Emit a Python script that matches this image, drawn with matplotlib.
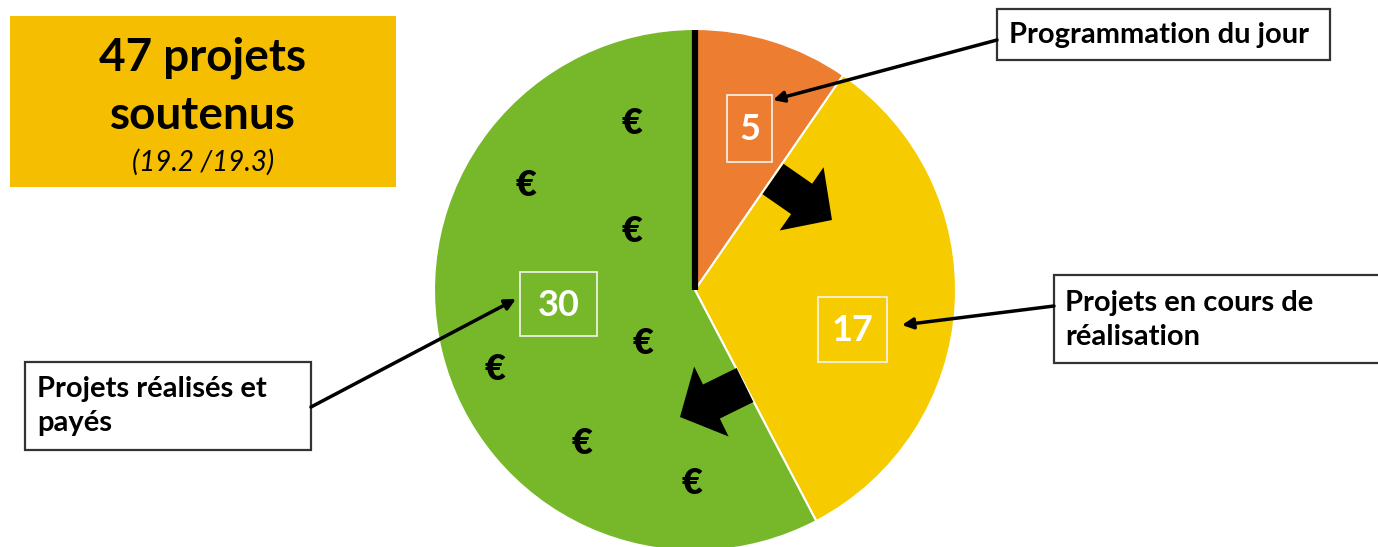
import matplotlib
matplotlib.use("Agg")
import matplotlib.pyplot as plt
from matplotlib.patches import Rectangle, FancyArrow

W, H = 1378, 547

# ---- data ----
categories = ["Programmation du jour", "Projets en cours de\nréalisation", "Projets réalisés et\npayés"]
values = [5, 17, 30]
colors = ["#ED7D31", "#F6CB00", "#77B82A"]
title_lines = ["47 projets", "soutenus"]
title_sub = "(19.2 /19.3)"

plt.rcParams['font.family'] = ['Lato', 'DejaVu Sans']

fig = plt.figure(figsize=(W / 100, H / 100), dpi=100)
ax = fig.add_axes([0, 0, 1, 1])

# pie (pixel coordinates, y downward -> visual clockwise via counterclock=True with inverted y)
cx, cy, R = 695, 290, 261
ax.pie(values, colors=colors, startangle=-90, counterclock=True,
       center=(cx, cy), radius=R,
       wedgeprops=dict(edgecolor="white", linewidth=1.5))
ax.set_xlim(0, W)
ax.set_ylim(H, 0)
ax.set_aspect('equal')
ax.axis('off')

# black separator line between green and orange
ax.plot([cx, cx], [cy - R + 1, cy], color="black", lw=4.5, solid_capstyle="butt", zorder=3)

# title box
ax.add_patch(Rectangle((10, 16), 386, 171, facecolor="#F5BE00", edgecolor="none", zorder=2))
for line, ty in zip(title_lines, [58, 116]):
    ax.text(203, ty, line, ha="center", va="center", fontsize=33, fontweight="bold", zorder=3)
ax.text(203, 162, title_sub, ha="center", va="center", fontsize=20, style="italic", zorder=3)

# value boxes inside pie
value_boxes = [(727, 95, 45, 67), (818, 297, 69, 65), (520, 272, 77, 64)]
for v, (bx, by, bw, bh) in zip(values, value_boxes):
    ax.add_patch(Rectangle((bx, by), bw, bh, facecolor="none", edgecolor="#F4F4F4", lw=1.2, zorder=4))
    ax.text(bx + bw / 2, by + bh / 2 + 1, str(v), ha="center", va="center", color="white",
            fontsize=26, fontweight="bold", zorder=5)

# euro signs
euros = [(632, 123), (526, 186), (632, 232), (643, 344), (495, 369), (582, 444), (692, 483)]
for ex, ey in euros:
    ax.text(ex, ey, "€", ha="center", va="center", fontsize=26, fontweight="heavy", zorder=4)

# big block arrows
ax.add_patch(FancyArrow(773, 179, 59, 41, width=37, head_width=77, head_length=37,
                        length_includes_head=True, color="black", lw=0, zorder=4))
ax.add_patch(FancyArrow(745, 385, -65, 32, width=38, head_width=78, head_length=35,
                        length_includes_head=True, color="black", lw=0, zorder=4))

# callout label boxes
label_boxes = [(997, 9, 333, 51), (1054, 275, 330, 88), (25, 362, 286, 88)]
label_text_pos = [(1009, 35), (1065, 320), (37, 406)]
arrow_from = [(997, 40), (1054, 306), (311, 407)]
arrow_to = [(773, 100), (902, 325), (516, 299)]
for lab, (bx, by, bw, bh), (tx, ty), a0, a1 in zip(categories, label_boxes, label_text_pos, arrow_from, arrow_to):
    ax.add_patch(Rectangle((bx, by), bw, bh, facecolor="white", edgecolor="#333333", lw=1.6, zorder=6))
    ax.text(tx, ty, lab, ha="left", va="center", fontsize=21, fontweight="bold",
            linespacing=1.42, zorder=7)
    ax.annotate("", xy=a1, xytext=a0,
                arrowprops=dict(arrowstyle="-|>", color="black", lw=2.5, mutation_scale=16,
                                shrinkA=0, shrinkB=0), zorder=6)

fig.savefig("out.png", dpi=100)
